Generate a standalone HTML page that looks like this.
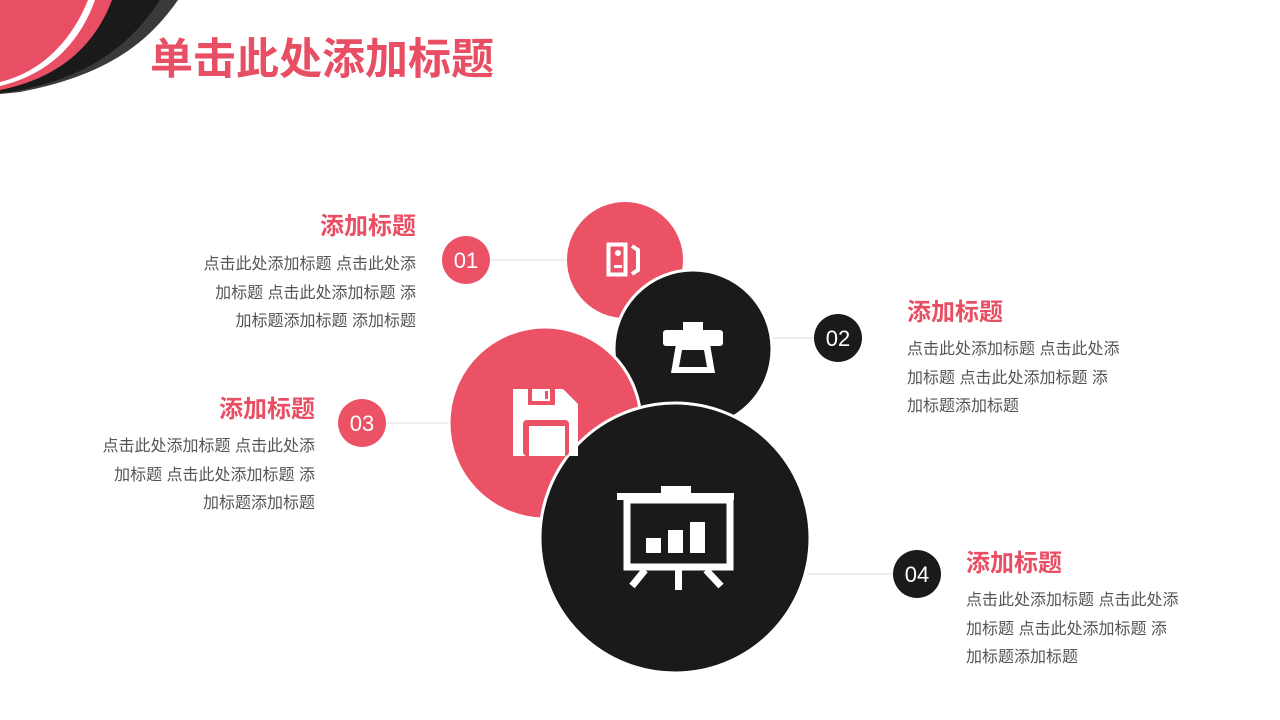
<!DOCTYPE html>
<html><head><meta charset="utf-8"><style>
html,body{margin:0;padding:0;background:#fff;}
body{width:1280px;height:720px;position:relative;overflow:hidden;font-family:"Liberation Sans","Noto Sans CJK SC",sans-serif;}
.t{position:absolute;white-space:nowrap;}
.title{left:150px;top:35px;font-size:43px;font-weight:bold;color:#e94f64;line-height:50px;}
.h{font-size:24px;font-weight:bold;color:#e94f64;line-height:30px;}
.b{font-size:16px;color:#555;line-height:28.5px;}
.r{text-align:right;}
</style></head><body>
<svg width="1280" height="720" style="position:absolute;left:0;top:0">
<path d="M0,0 L178,0 C150,40 110,75 20,92 L0,94 Z" fill="#3a3a3a"/>
<path d="M0,0 L160,0 C130,45 90,78 10,92 L0,93 Z" fill="#1a1a1a"/>
<path d="M0,0 L112,0 C95,45 60,78 0,90 Z" fill="#e94f64"/>
<path d="M0,0 L95,0 C80,42 50,74 0,86 Z" fill="#fff"/>
<path d="M0,0 L88,0 C72,40 42,72 0,82 Z" fill="#e94f64"/>
<g stroke="#ddd" stroke-width="1">
<line x1="490" y1="260" x2="566" y2="260"/>
<line x1="772" y1="338" x2="814" y2="338"/>
<line x1="386" y1="423" x2="452" y2="423"/>
<line x1="806" y1="574" x2="893" y2="574"/>
</g>
<circle cx="625" cy="260" r="58" fill="#ec5266"/>
<circle cx="693" cy="349" r="79" fill="#1a1a1a" stroke="#fff" stroke-width="3"/>
<circle cx="545" cy="423" r="96" fill="#ec5266" stroke="#fff" stroke-width="3"/>
<circle cx="675" cy="538" r="135" fill="#1a1a1a" stroke="#fff" stroke-width="3"/>
<rect x="608.5" y="244.5" width="17" height="30" fill="none" stroke="#fff" stroke-width="4"/>
<circle cx="618" cy="253" r="3" fill="#fff"/><rect x="614" y="265" width="8" height="3" fill="#fff"/>
<path d="M632,246 L638,250 L638,270 L632,274" fill="none" stroke="#fff" stroke-width="4"/>
<rect x="683" y="322" width="20" height="8" fill="#fff"/>
<rect x="663" y="330" width="60" height="16" rx="3" fill="#fff"/>
<path d="M676,344 L710,344 L715,373 L671,373 Z" fill="#fff"/>
<path d="M682,350 L704,350 L707,367 L679,367 Z" fill="#1a1a1a"/>
<path d="M513,389 L563,389 L578,404 L578,456 L513,456 Z" fill="#fff"/>
<rect x="528" y="389" width="27" height="16" fill="#ec5266"/>
<rect x="532" y="389" width="18" height="12" fill="#fff"/><rect x="545" y="391" width="3" height="8" fill="#ec5266"/>
<rect x="523" y="420" width="46" height="36" rx="4" fill="#ec5266"/>
<rect x="529" y="426" width="36" height="30" fill="#fff"/>
<rect x="617" y="493" width="117" height="7" fill="#fff"/>
<rect x="661" y="486" width="30" height="8" fill="#fff"/>
<rect x="627" y="500" width="103" height="67" fill="none" stroke="#fff" stroke-width="7"/>
<rect x="646" y="538" width="15" height="15" fill="#fff"/>
<rect x="668" y="530" width="15" height="23" fill="#fff"/>
<rect x="690" y="522" width="15" height="31" fill="#fff"/>
<rect x="675" y="570" width="7" height="20" fill="#fff"/>
<path d="M645,570 L632,586 M706,570 L721,586" stroke="#fff" stroke-width="7"/>
<circle cx="466" cy="260" r="24" fill="#ec5266"/>
<circle cx="838" cy="338" r="24" fill="#1a1a1a"/>
<circle cx="362" cy="423" r="24" fill="#ec5266"/>
<circle cx="917" cy="574" r="24" fill="#1a1a1a"/>
<g fill="#fff" font-family="Liberation Sans, sans-serif" font-size="22" text-anchor="middle">
<text x="466" y="268">01</text><text x="838" y="346">02</text><text x="362" y="431">03</text><text x="917" y="582">04</text>
</g>
</svg>
<div class="t title">单击此处添加标题</div>

<div class="t r" style="right:864px;top:212px"><div class="h">添加标题</div></div>
<div class="t b r" style="right:864px;top:251px">点击此处添加标题 点击此处添<br>加标题 点击此处添加标题 添<br>加标题添加标题 添加标题</div>

<div class="t" style="left:907px;top:298px"><div class="h">添加标题</div></div>
<div class="t b" style="left:907px;top:336px">点击此处添加标题 点击此处添<br>加标题 点击此处添加标题 添<br>加标题添加标题</div>

<div class="t r" style="right:965px;top:395px"><div class="h">添加标题</div></div>
<div class="t b r" style="right:965px;top:433px">点击此处添加标题 点击此处添<br>加标题 点击此处添加标题 添<br>加标题添加标题</div>

<div class="t" style="left:966px;top:549px"><div class="h">添加标题</div></div>
<div class="t b" style="left:966px;top:587px">点击此处添加标题 点击此处添<br>加标题 点击此处添加标题 添<br>加标题添加标题</div>
</body></html>
